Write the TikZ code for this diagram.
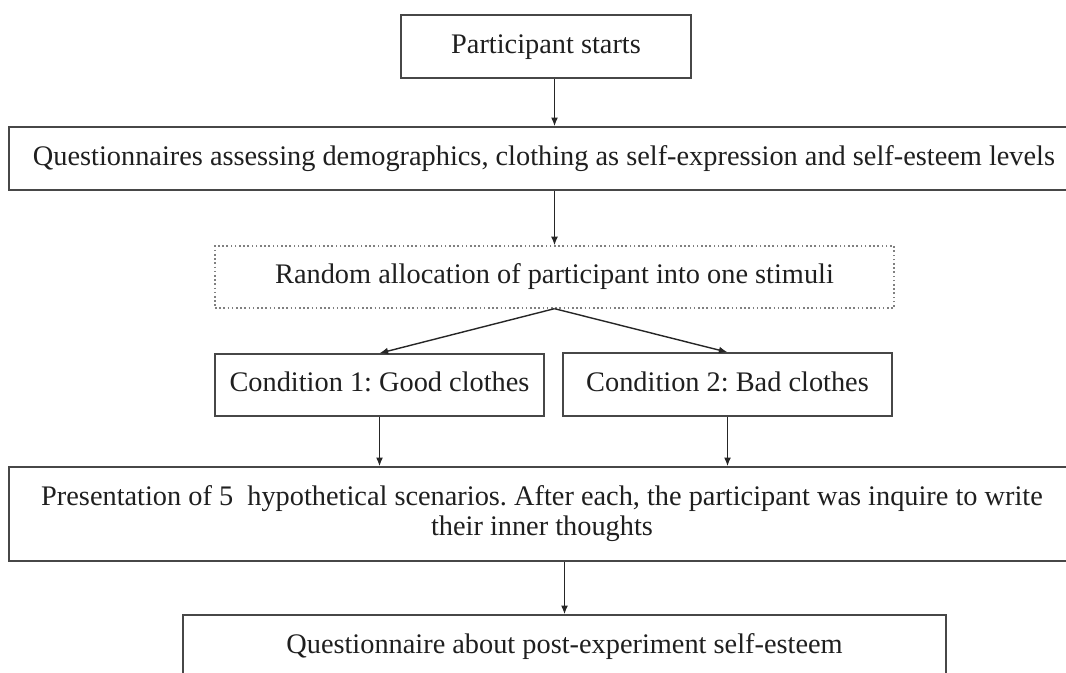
\documentclass[tikz,border=0pt]{standalone}
\usepackage{fontspec}
\setmainfont{Liberation Serif}
\usetikzlibrary{arrows.meta,calc}
\newlength\pxu
\setlength\pxu{0.75pt}
\begin{document}
\frenchspacing
\begin{tikzpicture}[x=0.75pt,y=-0.75pt,
  box/.style={draw=black!72, line width=1.15pt, rectangle, inner sep=0pt, font=\fontsize{21.25}{22.5}\selectfont, text=black!88},
  oneline/.style={text height=14.5pt, text depth=4.2pt},
  dotbox/.style={box, draw=black!50, dotted, line width=1pt},
  arr/.style={draw=black!85, line width=1.05pt, -{Latex[length=6.5pt,width=5.2pt]}}]
\useasboundingbox (0,0) rectangle (1066,673);
\clip (0,0) rectangle (1066,673);
\fill[white] (0,0) rectangle (1066,673);
\node[box, oneline, minimum width=290*\pxu, minimum height=63*\pxu] (b1) at (546,46.5) {Participant starts};
\node[box, oneline, minimum width=1070*\pxu, minimum height=63*\pxu] (b2) at (544,158.5) {Questionnaires assessing demographics, clothing as self-expression and self-esteem levels};
\node[dotbox, oneline, minimum width=679*\pxu, minimum height=62*\pxu] (b3) at (554.5,277) {Random allocation of participant into one stimuli};
\node[box, oneline, minimum width=329*\pxu, minimum height=62*\pxu] (c1) at (379.5,385) {Condition 1: Good clothes};
\node[box, oneline, minimum width=329*\pxu, minimum height=63*\pxu] (c2) at (727.5,384.5) {Condition 2: Bad clothes};
\node[box, align=center, minimum width=1066*\pxu, minimum height=94*\pxu] (b4) at (542,514) {Presentation of 5\ \ hypothetical scenarios. After each, the participant was inquire to write\\their inner thoughts};
\node[box, oneline, minimum width=763*\pxu, minimum height=64*\pxu] (b5) at (564.5,647) {Questionnaire about post-experiment self-esteem};
\draw[arr] (b1.south -| b3.north) -- (b2.north -| b3.north);
\draw[arr] (b2.south -| b3.north) -- (b3.north);
\draw[arr] (b3.south) -- (c1.north);
\draw[arr] (b3.south) -- (c2.north);
\draw[arr] (c1.south) -- (c1.south |- b4.north);
\draw[arr] (c2.south) -- (c2.south |- b4.north);
\draw[arr] (b4.south -| b5.north) -- (b5.north);
\end{tikzpicture}
\end{document}
